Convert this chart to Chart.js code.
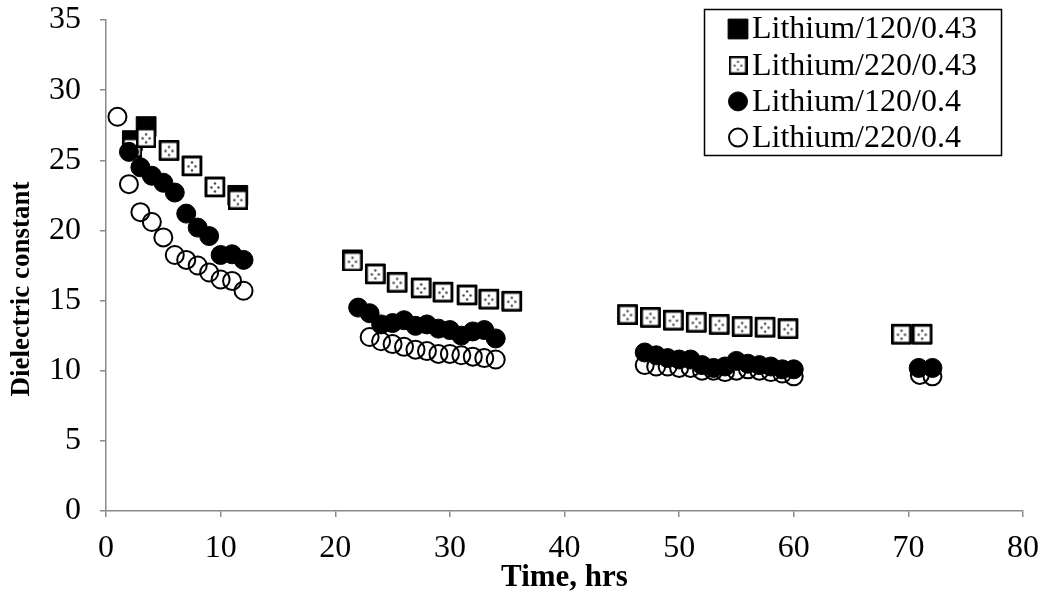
<!DOCTYPE html>
<html>
<head>
<meta charset="utf-8">
<title>Dielectric constant vs time</title>
<script src="https://cdn.jsdelivr.net/npm/chart.js@4/dist/chart.umd.min.js"></script>
<style>
  html, body { margin: 0; padding: 0; background: #ffffff; }
  #wrap { width: 1047px; height: 600px; }
</style>
</head>
<body>
<div id="wrap"><canvas id="c" width="1047" height="600"></canvas></div>
<script>
// Series labels
const seriesLabels = ['Lithium/120/0.43', 'Lithium/220/0.43', 'Lithium/120/0.4', 'Lithium/220/0.4'];
const xTitle = 'Time, hrs';
const yTitle = 'Dielectric constant';

// Lithium/120/0.43 (time in hrs, dielectric constant)
const timeA = [2.3, 3.5, 5.5, 7.5, 9.5, 11.5, 21.5, 23.5, 25.4, 27.5, 29.4, 31.5, 33.4, 35.4,
               45.5, 47.5, 49.5, 51.5, 53.5, 55.5, 57.5, 59.5, 69.4, 71.2];
const dielA = [26.4, 27.4, 25.7, 24.6, 23.1, 22.5, 17.9, 16.9, 16.3, 15.9, 15.6, 15.4, 15.1, 14.95,
               14.0, 13.8, 13.6, 13.45, 13.3, 13.15, 13.1, 13.0, 12.6, 12.6];

// Lithium/220/0.43
const timeB = [2.3, 3.5, 5.5, 7.5, 9.5, 11.5, 21.5, 23.5, 25.4, 27.5, 29.4, 31.5, 33.4, 35.4,
               45.5, 47.5, 49.5, 51.5, 53.5, 55.5, 57.5, 59.5, 69.4, 71.2];
const dielB = [25.9, 26.6, 25.7, 24.6, 23.1, 22.2, 17.8, 16.9, 16.3, 15.9, 15.6, 15.4, 15.1, 14.95,
               14.0, 13.8, 13.6, 13.45, 13.3, 13.15, 13.1, 13.0, 12.6, 12.6];

// Lithium/120/0.4
const timeC = [2, 3, 4, 5, 6, 7, 8, 9, 10, 11, 12,
               22, 23, 24, 25, 26, 27, 28, 29, 30, 31, 32, 33, 34,
               47, 48, 49, 50, 51, 52, 53, 54, 55, 56, 57, 58, 59, 60,
               70.9, 72.1];
const dielC = [25.6, 24.5, 23.9, 23.4, 22.7, 21.2, 20.2, 19.6, 18.25, 18.3, 17.9,
               14.5, 14.1, 13.3, 13.4, 13.6, 13.2, 13.3, 13.0, 12.9, 12.5, 12.8, 12.9, 12.3,
               11.3, 11.1, 10.9, 10.8, 10.8, 10.4, 10.2, 10.3, 10.7, 10.5, 10.4, 10.3, 10.1, 10.1,
               10.2, 10.2];

// Lithium/220/0.4
const timeD = [1, 2, 3, 4, 5, 6, 7, 8, 9, 10, 11, 12,
               23, 24, 25, 26, 27, 28, 29, 30, 31, 32, 33, 34,
               47, 48, 49, 50, 51, 52, 53, 54, 55, 56, 57, 58, 59, 60,
               71, 72.1];
const dielD = [28.1, 23.3, 21.3, 20.6, 19.5, 18.25, 17.9, 17.5, 17.0, 16.5, 16.4, 15.7,
               12.4, 12.1, 11.9, 11.7, 11.5, 11.4, 11.2, 11.2, 11.1, 11.0, 10.9, 10.8,
               10.4, 10.3, 10.3, 10.2, 10.2, 10.0, 10.0, 9.9, 10.0, 10.1, 10.0, 9.9, 9.8, 9.6,
               9.7, 9.6];

// Axis ticks
const xTicks = [0, 10, 20, 30, 40, 50, 60, 70, 80];
const yTicks = [0, 5, 10, 15, 20, 25, 30, 35];

const toPoints = (xs, ys) => xs.map((x, i) => ({ x: x, y: ys[i] }));

// White square marker with a sparse dot fill
function dottedSquare(size) {
  const cv = document.createElement('canvas');
  cv.width = size; cv.height = size;
  const g = cv.getContext('2d');
  g.fillStyle = '#ffffff';
  g.fillRect(0, 0, size, size);
  g.fillStyle = '#444444';
  const s = size / 20;
  [[10, 6.5], [6.5, 10.5], [13.5, 10.5], [10, 14.5]].forEach(([px, py]) => {
    g.beginPath();
    g.arc(px * s, py * s, 1.2 * s, 0, Math.PI * 2);
    g.fill();
  });
  g.strokeStyle = '#000000';
  g.lineWidth = 2.5;
  g.strokeRect(1.25, 1.25, size - 2.5, size - 2.5);
  return cv;
}
const dotted = dottedSquare(20);
const dottedSmall = dottedSquare(19);

const serif = '"Liberation Serif", "Times New Roman", Times, serif';
Chart.defaults.font.family = serif;
Chart.defaults.color = '#000000';

// Boxed legend in the upper right of the plot, plus the vertical axis title
const boxLegend = {
  id: 'boxLegend',
  afterDraw(chart) {
    const ctx = chart.ctx;
    const left = 704.5, top = 9.5, w = 297, h = 146;
    ctx.save();
    ctx.fillStyle = '#ffffff';
    ctx.fillRect(left, top, w, h);
    ctx.strokeStyle = '#000000';
    ctx.lineWidth = 1.5;
    ctx.strokeRect(left, top, w, h);
    ctx.font = '32px ' + serif;
    ctx.textBaseline = 'middle';
    ctx.textAlign = 'left';
    chart.data.datasets.forEach((ds, i) => {
      const cy = 29 + i * 36.2;
      const cx = 738;
      ctx.save();
      ctx.fillStyle = ds.legendFill;
      ctx.strokeStyle = '#000000';
      ctx.lineWidth = ds.pointBorderWidth;
      Chart.helpers.drawPoint(ctx, {
        pointStyle: ds.legendStyle,
        radius: ds.pointRadius,
        rotation: 0,
        borderWidth: ds.pointBorderWidth
      }, cx, cy);
      ctx.restore();
      ctx.fillStyle = '#000000';
      ctx.fillText(ds.label, 752, cy + 1);
    });
    ctx.restore();

    // y-axis title, rotated
    ctx.save();
    ctx.translate(22, 289);
    ctx.rotate(-Math.PI / 2);
    ctx.font = 'bold 27px ' + serif;
    ctx.fillStyle = '#000000';
    ctx.textAlign = 'center';
    ctx.textBaseline = 'middle';
    ctx.fillText(yTitle, 0, 0);
    ctx.restore();
  }
};

const axisGrey = '#8a8a8a';

new Chart(document.getElementById('c'), {
  type: 'scatter',
  data: {
    datasets: [
      {
        label: seriesLabels[0],
        data: toPoints(timeA, dielA),
        pointStyle: 'rect',
        legendStyle: 'rect',
        pointRadius: 14,
        pointBackgroundColor: '#000000',
        legendFill: '#000000',
        pointBorderColor: '#000000',
        pointBorderWidth: 1,
        order: 4
      },
      {
        label: seriesLabels[1],
        data: toPoints(timeB, dielB),
        pointStyle: dotted,
        legendStyle: dottedSmall,
        pointRadius: 10,
        pointBackgroundColor: '#ffffff',
        legendFill: '#ffffff',
        pointBorderColor: '#000000',
        pointBorderWidth: 1,
        order: 3
      },
      {
        label: seriesLabels[2],
        data: toPoints(timeC, dielC),
        pointStyle: 'circle',
        legendStyle: 'circle',
        pointRadius: 9.5,
        pointBackgroundColor: '#000000',
        legendFill: '#000000',
        pointBorderColor: '#000000',
        pointBorderWidth: 1,
        order: 1
      },
      {
        label: seriesLabels[3],
        data: toPoints(timeD, dielD),
        pointStyle: 'circle',
        legendStyle: 'circle',
        pointRadius: 9,
        pointBackgroundColor: 'rgba(0,0,0,0)',
        legendFill: 'rgba(0,0,0,0)',
        pointBorderColor: '#000000',
        pointBorderWidth: 2,
        order: 2
      }
    ]
  },
  options: {
    responsive: false,
    devicePixelRatio: 1,
    animation: false,
    events: [],
    layout: { padding: { left: 0, right: 24, top: 20, bottom: 0 } },
    plugins: {
      legend: { display: false },
      tooltip: { enabled: false }
    },
    scales: {
      x: {
        type: 'linear',
        min: xTicks[0],
        max: xTicks[xTicks.length - 1],
        afterFit(scale) {
          scale.height = 89;
          scale.paddingLeft = 0;
          scale.paddingRight = 0;
        },
        afterBuildTicks(scale) { scale.ticks = xTicks.map(v => ({ value: v })); },
        ticks: { font: { size: 32 }, color: '#000000', padding: 12, maxRotation: 0 },
        grid: { drawOnChartArea: false, drawTicks: true, tickLength: 6, color: axisGrey, lineWidth: 1.5 },
        border: { display: true, color: axisGrey, width: 1.5 },
        title: {
          display: true,
          text: xTitle,
          font: { size: 31, weight: 'bold' },
          color: '#000000',
          padding: { top: 0, bottom: 3 }
        }
      },
      y: {
        type: 'linear',
        min: yTicks[0],
        max: yTicks[yTicks.length - 1],
        afterFit(scale) {
          scale.width = 106;
          scale.paddingTop = 0;
          scale.paddingBottom = 0;
        },
        afterBuildTicks(scale) { scale.ticks = yTicks.map(v => ({ value: v })); },
        ticks: { font: { size: 32 }, color: '#000000', padding: 19 },
        grid: { drawOnChartArea: false, drawTicks: true, tickLength: 6, color: axisGrey, lineWidth: 1.5 },
        border: { display: true, color: axisGrey, width: 1.5 },
        title: { display: false }
      }
    }
  },
  plugins: [boxLegend]
});
</script>
</body>
</html>
